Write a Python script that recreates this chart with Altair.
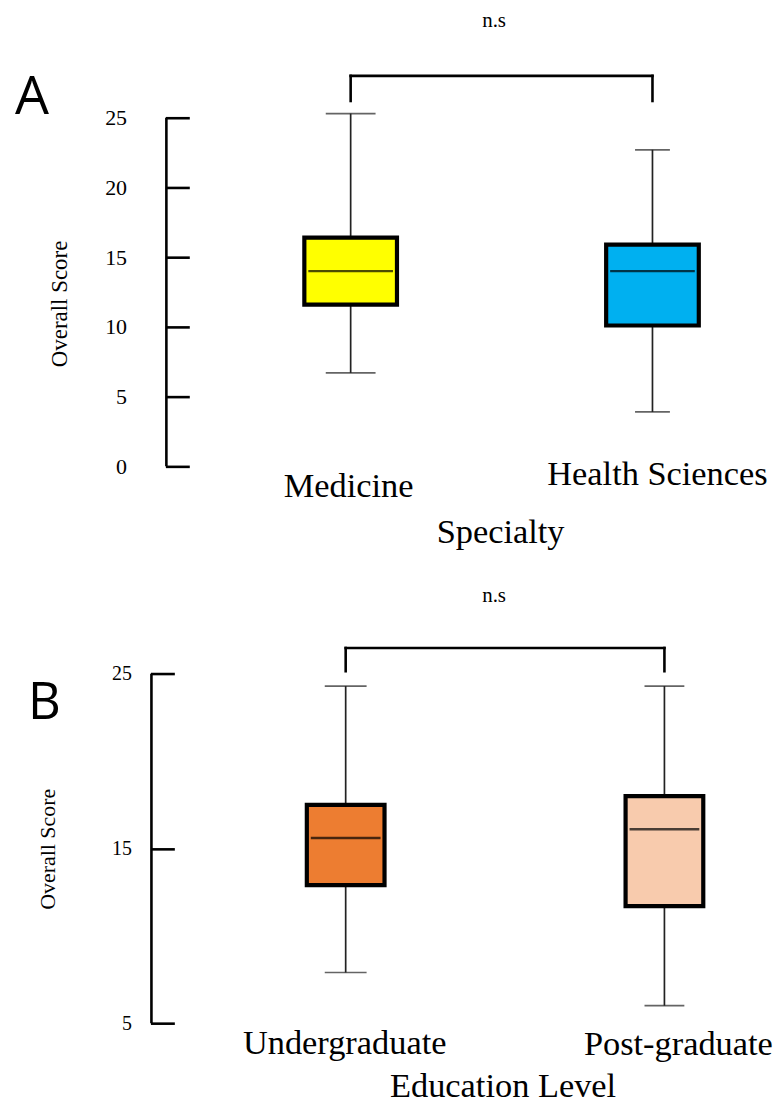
import altair as alt
import pandas as pd

# ---------------- data ----------------
SPEC_CATS = ["Medicine", "Health Sciences"]
SPEC_LOWER = [6.7, 3.9]
SPEC_Q1 = [11.6, 10.1]
SPEC_MEDIAN = [14.0, 14.0]
SPEC_Q3 = [16.4, 15.9]
SPEC_UPPER = [25.3, 22.7]
SPEC_TICKS = [0, 5, 10, 15, 20, 25]

EDU_CATS = ["Undergraduate", "Post-graduate"]
EDU_LOWER = [7.9, 6.0]
EDU_Q1 = [12.9, 11.7]
EDU_MEDIAN = [15.6, 16.1]
EDU_Q3 = [17.5, 18.0]
EDU_UPPER = [24.3, 24.3]
EDU_TICKS = [5, 15, 25]

Y_TITLE = "Overall Score"
SIG_LABEL = "n.s"

# ---------------- styles / layout ----------------
SPEC_COLORS = ["#FFFF00", "#00B0F0"]
EDU_COLORS = ["#ED7D31", "#F8CBAD"]
SERIF = "Liberation Serif"
SANS = "Open Sans"

# px_above: pixels of the plot area above the first tick value
CFG_A = dict(
    px_above=458, ppu=14.0, xrange=[200, 503], axis_x=15, box=93, med=85,
    caps=[50, 35], br_low=26.2, br_top=28.0, ns_x=344, ns_y=17,
    ldx=[-2, 5], ly=[489, 477], title_x=350.5, title_y=535,
    letter_x=-137, letter_y=104, letter_size=54,
    label_size=22, label_pad=39, ytitle_x=-130, ytitle_y=294.5, ytitle_size=23,
)
CFG_B = dict(
    px_above=445, ppu=17.535, xrange=[195, 515], axis_x=0, box=78, med=70,
    caps=[42, 40], br_low=25.15, br_top=26.48, ns_x=344, ns_y=22,
    ldx=[-1, 14], ly=[476, 477], title_x=353, title_y=519,
    letter_x=-124, letter_y=140, letter_size=51,
    label_size=20, label_pad=19, ytitle_x=-127.5, ytitle_y=270, ytitle_size=22,
)
CAT_FONT_SIZE = 34.5


def panel(cats, lower, q1, med, q3, upper, colors, ticks, xtitle, letter, cfg):
    df = pd.DataFrame({
        "cat": cats, "lower": lower, "q1": q1, "median": med,
        "q3": q3, "upper": upper, "cap": cfg["caps"],
        "br_low": cfg["br_low"], "br_top": cfg["br_top"],
    })
    height = cfg["px_above"]
    ytop = ticks[0] + cfg["px_above"] / cfg["ppu"]
    yscale = alt.Scale(domain=[ticks[0], ytop], nice=False, zero=False)
    xscale = alt.Scale(type="point", domain=cats, range=cfg["xrange"], padding=0)
    X = alt.X("cat:N", scale=xscale, axis=None)

    axis_off = cfg["axis_x"] + 23
    yaxis = alt.Axis(
        values=ticks, title=Y_TITLE, grid=False, domain=False,
        tickSize=24, tickWidth=2.6, tickColor="black", offset=-axis_off,
        labelPadding=cfg["label_pad"], labelFont=SERIF,
        labelFontSize=cfg["label_size"], labelColor="black",
        labelFlush=False, labelOverlap=False,
        titleFont=SERIF, titleFontSize=cfg["ytitle_size"], titleFontWeight="normal",
        titleColor="black", titleAngle=270, titleAlign="center",
        titleBaseline="middle", titleX=cfg["ytitle_x"], titleY=cfg["ytitle_y"],
    )

    def Y(field):
        return alt.Y(field, scale=yscale, axis=yaxis)

    base = alt.Chart(df)

    dom = alt.Chart(pd.DataFrame({"lo": [ticks[0]], "hi": [ticks[-1]]})).mark_rule(
        color="black", strokeWidth=2.6
    ).encode(x=alt.value(cfg["axis_x"]), y=Y("lo:Q"), y2="hi:Q")

    wlo = base.mark_rule(color="#222", strokeWidth=1.7).encode(x=X, y=Y("lower:Q"), y2="q1:Q")
    whi = base.mark_rule(color="#222", strokeWidth=1.7).encode(x=X, y=Y("q3:Q"), y2="upper:Q")
    cap_lo = base.mark_tick(color="#222", thickness=1.7).encode(
        x=X, y=Y("lower:Q"), size=alt.Size("cap:Q", scale=None))
    cap_hi = base.mark_tick(color="#222", thickness=1.7).encode(
        x=X, y=Y("upper:Q"), size=alt.Size("cap:Q", scale=None))

    box = base.mark_bar(size=cfg["box"], stroke="black", strokeWidth=4.2,
                        strokeJoin="miter").encode(
        x=X,
        y=Y("q1:Q"),
        y2="q3:Q",
        color=alt.Color("cat:N", scale=alt.Scale(domain=cats, range=colors), legend=None),
    )
    median = base.mark_tick(color="black", thickness=2.4, size=cfg["med"]).encode(
        x=X, y=Y("median:Q"))

    br_df = pd.DataFrame({"a": [cats[0]], "b": [cats[1]], "top": [cfg["br_top"]]})
    br_h = alt.Chart(br_df).mark_rule(color="black", strokeWidth=2.6, strokeCap="square").encode(
        x=alt.X("a:N", scale=xscale, axis=None), x2="b:N", y=Y("top:Q"))
    br_v = base.mark_rule(color="black", strokeWidth=2.6, strokeCap="square").encode(
        x=X, y=Y("br_low:Q"), y2="br_top:Q")

    ns = alt.Chart(pd.DataFrame({"t": [SIG_LABEL]})).mark_text(
        font=SERIF, fontSize=21, color="black", baseline="alphabetic", align="center"
    ).encode(x=alt.value(cfg["ns_x"]), y=alt.value(cfg["ns_y"]), text="t:N")

    labels = []
    for i, c in enumerate(cats):
        labels.append(
            base.transform_filter(alt.datum.cat == c).mark_text(
                font=SERIF, fontSize=CAT_FONT_SIZE, color="black", baseline="alphabetic",
                align="center", dx=cfg["ldx"][i]
            ).encode(x=X, y=alt.value(cfg["ly"][i]), text="cat:N")
        )

    xt = alt.Chart(pd.DataFrame({"t": [xtitle]})).mark_text(
        font=SERIF, fontSize=CAT_FONT_SIZE, color="black", baseline="alphabetic",
        align="center"
    ).encode(x=alt.value(cfg["title_x"]), y=alt.value(cfg["title_y"]), text="t:N")

    let = alt.Chart(pd.DataFrame({"t": [letter]})).mark_text(
        font=SANS, fontSize=cfg["letter_size"], color="black", baseline="alphabetic",
        align="left"
    ).encode(x=alt.value(cfg["letter_x"]), y=alt.value(cfg["letter_y"]), text="t:N")

    return alt.layer(
        dom, wlo, whi, cap_lo, cap_hi, box, median, br_h, br_v, ns, *labels, xt, let
    ).properties(width=590, height=height)


pa = panel(SPEC_CATS, SPEC_LOWER, SPEC_Q1, SPEC_MEDIAN, SPEC_Q3, SPEC_UPPER,
           SPEC_COLORS, SPEC_TICKS, "Specialty", "A", CFG_A)
pb = panel(EDU_CATS, EDU_LOWER, EDU_Q1, EDU_MEDIAN, EDU_Q3, EDU_UPPER,
           EDU_COLORS, EDU_TICKS, "Education Level", "B", CFG_B)

chart = alt.vconcat(pa, pb, spacing=114, bounds="flush").resolve_scale(
    x="independent", y="independent", color="independent"
).properties(
    padding={"left": 7, "top": 0, "right": 0, "bottom": 0},
    background="white",
).configure_view(strokeWidth=0)

chart.save("out.html", embed_options={"renderer": "svg", "actions": False})
